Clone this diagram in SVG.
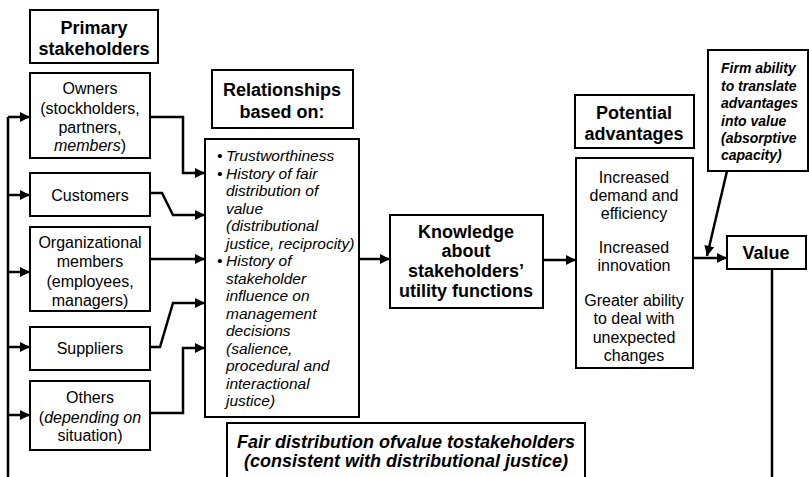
<svg xmlns="http://www.w3.org/2000/svg" width="809" height="477" viewBox="0 0 809 477">
<defs>
<style>
.box{fill:#fff;stroke:#000;stroke-width:2}
.t{font-family:"Liberation Sans",Arial,sans-serif;fill:#000}
.h{font-size:18px;font-weight:bold;text-anchor:middle}
.r{font-size:16px;text-anchor:middle}
.i{font-size:15.5px;font-style:italic}
.fi{font-size:14px;font-style:italic;font-weight:bold}
.fd{font-size:18px;font-style:italic;font-weight:bold;text-anchor:middle}
.c{fill:none;stroke:#000;stroke-width:2.5}
</style>
<marker id="ah" viewBox="0 0 10 10" refX="10" refY="5" markerWidth="11" markerHeight="10" orient="auto" markerUnits="userSpaceOnUse"><path d="M0,0 L10,5 L0,10 z" fill="#000"/></marker>
</defs>
<rect width="809" height="477" fill="#fff"/>

<g id="connectors">
<path class="c" d="M8,477 L8,117"/>
<path class="c" d="M8,117 L30,117" marker-end="url(#ah)"/>
<path class="c" d="M8,195 L30,195" marker-end="url(#ah)"/>
<path class="c" d="M8,272 L30,272" marker-end="url(#ah)"/>
<path class="c" d="M8,347 L30,347" marker-end="url(#ah)"/>
<path class="c" d="M8,415 L30,415" marker-end="url(#ah)"/>
<path class="c" d="M150,117 L183,117 L183,173 L205,173" marker-end="url(#ah)"/>
<path class="c" d="M150,193 L162,193 L173,215 L205,215" marker-end="url(#ah)"/>
<path class="c" d="M150,259 L205,259" marker-end="url(#ah)"/>
<path class="c" d="M150,347 L160,347 L173,303 L205,303" marker-end="url(#ah)"/>
<path class="c" d="M150,413 L183,413 L183,348 L205,348" marker-end="url(#ah)"/>
<path class="c" d="M359,259 L390,259" marker-end="url(#ah)"/>
<path class="c" d="M543,260 L576,260" marker-end="url(#ah)"/>
<path class="c" d="M693,258 L727,258" marker-end="url(#ah)"/>
<path class="c" d="M727,171 L707,256" marker-end="url(#ah)"/>
<path class="c" d="M772,269 L772,477"/>
</g>

<g id="primary">
<rect class="box" x="30" y="10" width="128" height="53"/>
<text class="t h" x="94" y="34">Primary</text>
<text class="t h" x="94" y="55">stakeholders</text>
</g>

<g id="owners">
<rect class="box" x="30" y="73" width="120" height="85"/>
<text class="t r" x="90" y="94">Owners</text>
<text class="t r" x="90" y="114">(stockholders,</text>
<text class="t r" x="90" y="133">partners,</text>
<text class="t r" x="90" y="151"><tspan font-style="italic">members</tspan>)</text>
</g>

<g id="customers">
<rect class="box" x="30" y="173" width="120" height="43"/>
<text class="t r" x="90" y="201">Customers</text>
</g>

<g id="organizational">
<rect class="box" x="30" y="227" width="120" height="84"/>
<text class="t r" x="90" y="248">Organizational</text>
<text class="t r" x="90" y="267">members</text>
<text class="t r" x="90" y="287">(employees,</text>
<text class="t r" x="90" y="306">managers)</text>
</g>

<g id="suppliers">
<rect class="box" x="30" y="327" width="120" height="43"/>
<text class="t r" x="90" y="354">Suppliers</text>
</g>

<g id="others">
<rect class="box" x="30" y="381" width="120" height="69"/>
<text class="t r" x="90" y="403">Others</text>
<text class="t r" x="90" y="423">(<tspan font-style="italic">depending on</tspan></text>
<text class="t r" x="90" y="441">situation)</text>
</g>

<g id="relationships-header">
<rect class="box" x="212" y="70" width="141" height="58"/>
<text class="t h" x="282" y="96">Relationships</text>
<text class="t h" x="282" y="118">based on:</text>
</g>

<g id="relationships">
<rect class="box" x="205" y="139" width="154" height="278"/>
<text class="t i" x="217" y="161">•</text>
<text class="t i" x="226" y="161">Trustworthiness</text>
<text class="t i" x="217" y="178.5">•</text>
<text class="t i" x="226" y="178.5">History of fair</text>
<text class="t i" x="226" y="196">distribution of</text>
<text class="t i" x="226" y="213.5">value</text>
<text class="t i" x="226" y="231">(distributional</text>
<text class="t i" x="226" y="248.5">justice, reciprocity)</text>
<text class="t i" x="217" y="266">•</text>
<text class="t i" x="226" y="266">History of</text>
<text class="t i" x="226" y="283.5">stakeholder</text>
<text class="t i" x="226" y="301">influence on</text>
<text class="t i" x="226" y="318.5">management</text>
<text class="t i" x="226" y="336">decisions</text>
<text class="t i" x="226" y="353.5">(salience,</text>
<text class="t i" x="226" y="371">procedural and</text>
<text class="t i" x="226" y="388.5">interactional</text>
<text class="t i" x="226" y="406">justice)</text>
</g>

<g id="knowledge">
<rect class="box" x="390" y="215" width="153" height="93"/>
<text class="t h" x="466" y="238">Knowledge</text>
<text class="t h" x="466" y="257">about</text>
<text class="t h" x="466" y="277">stakeholders’</text>
<text class="t h" x="466" y="297">utility functions</text>
</g>

<g id="potential-header">
<rect class="box" x="575" y="95" width="119" height="53"/>
<text class="t h" x="634" y="119">Potential</text>
<text class="t h" x="634" y="140">advantages</text>
</g>

<g id="potential">
<rect class="box" x="576" y="158" width="117" height="210"/>
<text class="t r" x="634" y="183">Increased</text>
<text class="t r" x="634" y="201">demand and</text>
<text class="t r" x="634" y="219">efficiency</text>
<text class="t r" x="634" y="253">Increased</text>
<text class="t r" x="634" y="271">innovation</text>
<text class="t r" x="634" y="306">Greater ability</text>
<text class="t r" x="634" y="324">to deal with</text>
<text class="t r" x="634" y="343">unexpected</text>
<text class="t r" x="634" y="361">changes</text>
</g>

<g id="firm-ability">
<rect class="box" x="708" y="50" width="100" height="121"/>
<text class="t fi" x="721" y="73">Firm ability</text>
<text class="t fi" x="721" y="91">to translate</text>
<text class="t fi" x="721" y="108">advantages</text>
<text class="t fi" x="721" y="126">into value</text>
<text class="t fi" x="721" y="143">(absorptive</text>
<text class="t fi" x="721" y="160">capacity)</text>
</g>

<g id="value">
<rect class="box" x="727" y="236" width="79" height="33"/>
<text class="t h" x="766" y="259">Value</text>
</g>

<g id="fair-distribution">
<path class="box" d="M227,478 L227,423 L585,423 L585,478"/>
<text class="t fd" x="406" y="448">Fair distribution ofvalue tostakeholders</text>
<text class="t fd" x="406" y="467">(consistent with distributional justice)</text>
</g>
</svg>
